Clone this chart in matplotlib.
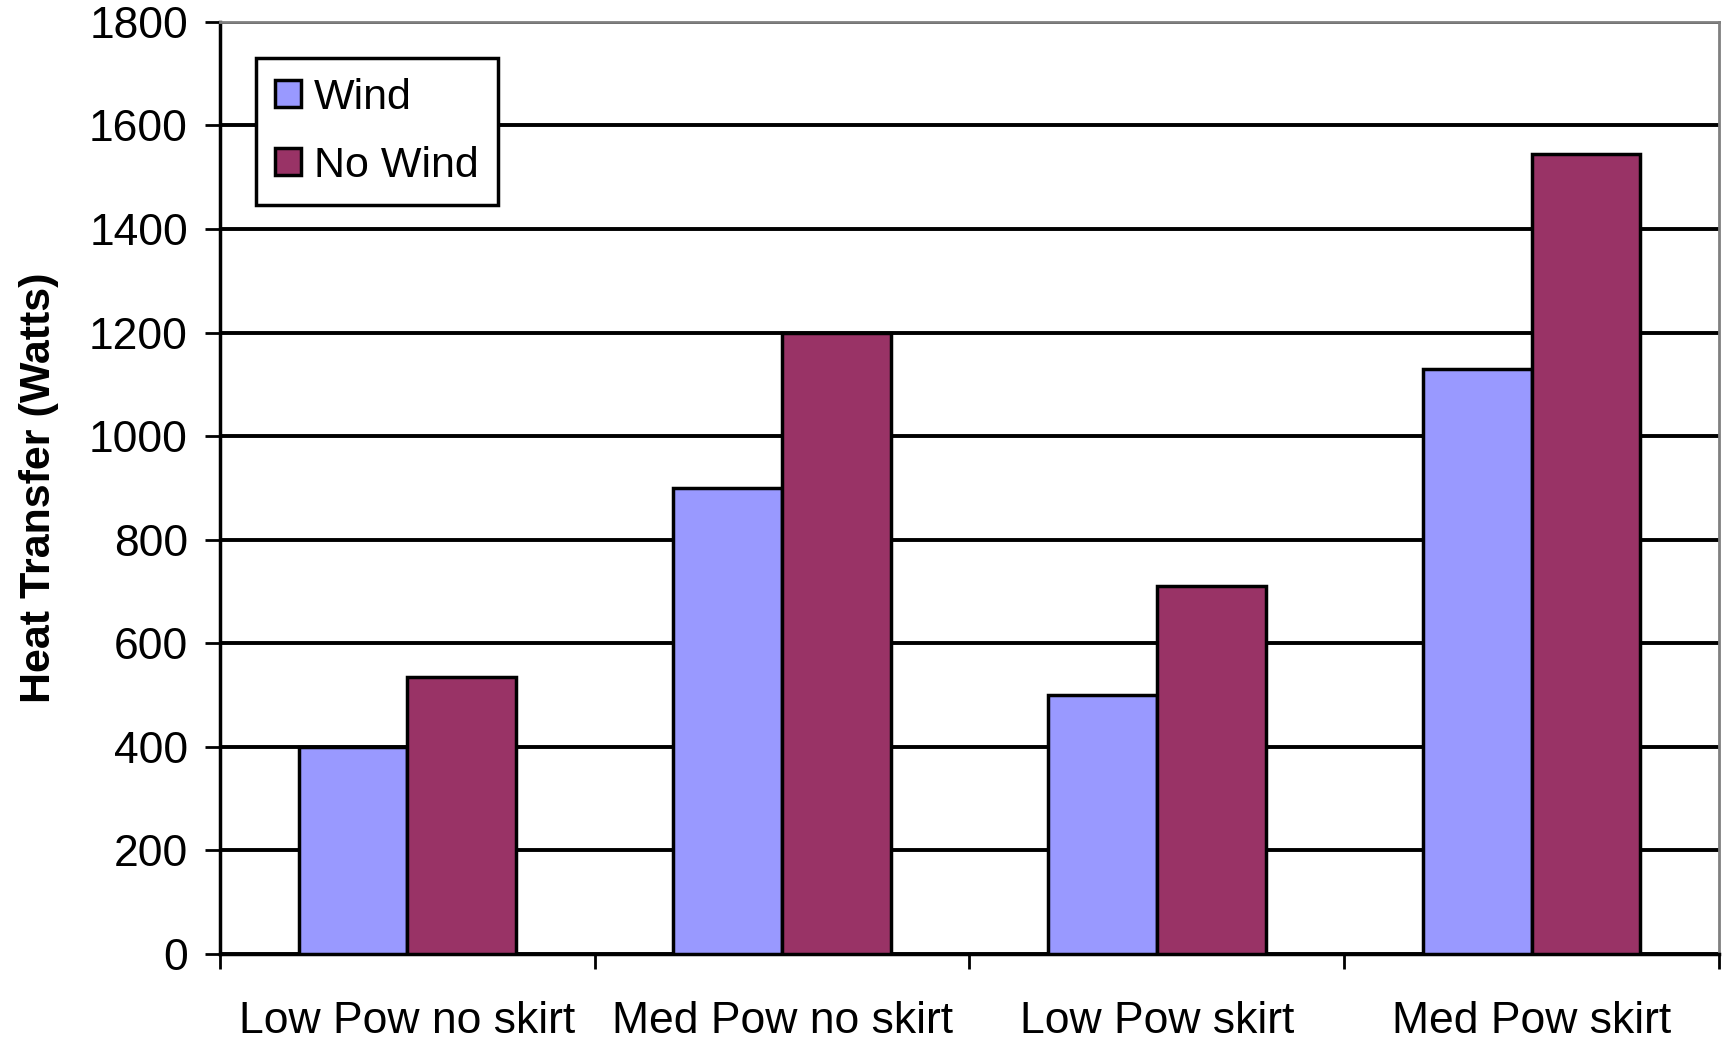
import numpy as np
import matplotlib.pyplot as plt
from matplotlib.ticker import FixedLocator

plt.rcParams['font.family'] = ['Liberation Sans', 'DejaVu Sans']

# data
categories = ['Low Pow no skirt', 'Med Pow no skirt', 'Low Pow skirt', 'Med Pow skirt']
wind = [400, 900, 500, 1130]
no_wind = [535, 1200, 710, 1545]
yticks = [0, 200, 400, 600, 800, 1000, 1200, 1400, 1600, 1800]

wind_color = '#9999FF'
no_wind_color = '#993366'

fig = plt.figure(figsize=(17.25, 10.43), dpi=100)
ax = fig.add_axes([0.1275, 0.0853, 0.869, 0.8937])

x = np.arange(len(categories))
w = 0.29
ax.bar(x - w / 2, wind, w, color=wind_color, edgecolor='black', linewidth=2.5,
       label='Wind', zorder=3)
ax.bar(x + w / 2, no_wind, w, color=no_wind_color, edgecolor='black', linewidth=2.5,
       label='No Wind', zorder=3)

ax.set_xlim(-0.5, len(categories) - 0.5)
ax.set_ylim(0, 1800)
ax.set_yticks(yticks)
ax.tick_params(axis='y', labelsize=32, length=11, width=2, pad=12, direction='out')

ax.set_xticks(x)
ax.set_xticklabels(categories)
ax.xaxis.set_minor_locator(FixedLocator(np.arange(len(categories) + 1) - 0.5))
ax.tick_params(axis='x', which='major', length=0, labelsize=32, pad=34)
ax.tick_params(axis='x', which='minor', length=11, width=2, direction='out')

ax.yaxis.grid(True, color='black', linewidth=2.8, zorder=0)
ax.set_axisbelow(True)

for side in ['left', 'bottom']:
    ax.spines[side].set_color('black')
    ax.spines[side].set_linewidth(2.5)
for side in ['top', 'right']:
    ax.spines[side].set_color('#808080')
    ax.spines[side].set_linewidth(2)

ax.set_ylabel('Heat Transfer (Watts)', fontsize=31, fontweight='bold', labelpad=22)

leg = ax.legend(loc='upper left', bbox_to_anchor=(0.024, 0.961), fontsize=31,
                frameon=True, fancybox=False, edgecolor='black', handlelength=0.6,
                handleheight=0.6, handletextpad=0.3, borderpad=0.45,
                labelspacing=0.65, borderaxespad=0)
leg.get_frame().set_linewidth(2.5)
leg.get_frame().set_alpha(1)
leg.set_zorder(5)

fig.savefig('out.png', dpi=100, facecolor='white')
